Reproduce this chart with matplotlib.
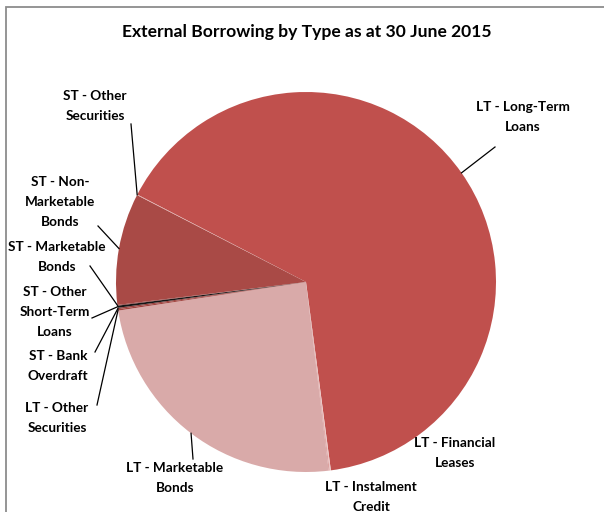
import matplotlib
matplotlib.use("Agg")
import matplotlib.pyplot as plt
from matplotlib.patches import Rectangle
import numpy as np

plt.rcParams['font.family'] = ['Lato', 'DejaVu Sans']

labels = ["LT - Long-Term\nLoans", "LT - Financial\nLeases", "LT - Instalment\nCredit",
          "LT - Marketable\nBonds", "LT - Other\nSecurities", "ST - Bank\nOverdraft",
          "ST - Other\nShort-Term\nLoans", "ST - Marketable\nBonds",
          "ST - Non-\nMarketable\nBonds", "ST - Other\nSecurities"]
shares = [65.30, 0.12, 0.06, 24.50, 0.12, 0.12, 0.18, 0.06, 9.49, 0.05]
colors = ["#C0504D", "#EBC6C5", "#D27F7C", "#D9AAA9", "#A2433F", "#983F3B",
          "#151515", "#7E302D", "#A94A46", "#DDA09E"]

# label positions in pixels (x, y from top-left)
label_px = [(523, 117), (455, 453), (371, 497), (175, 478), (57, 418),
            (58, 366), (55, 312), (57, 257), (60, 202), (95, 106)]
# where each leader line leaves the label
leader_px = [(495, 147), None, None, (193, 459), (97, 405), (95, 352),
             (92, 318), (90, 266), (98, 226), (131, 124)]

W, H = 604, 512
cx, cy, R = 306, 282, 190


def px(x, y):
    return (x - cx) / R, (cy - y) / R


fig = plt.figure(figsize=(W / 100, H / 100), dpi=100)
ax = fig.add_axes([0, 0, 1, 1])
ax.set_aspect('equal')
ax.axis('off')

wedges, _ = ax.pie(shares, colors=colors, startangle=152.6, counterclock=False,
                   radius=1, center=(0, 0), wedgeprops=dict(linewidth=0),
                   frame=False)
ax.set_xlim(px(0, 0)[0], px(W, 0)[0])
ax.set_ylim(px(0, H)[1], px(0, 0)[1])

for w, lab, lp, lead in zip(wedges, labels, label_px, leader_px):
    tx, ty = px(*lp)
    ax.text(tx, ty, lab, ha='center', va='center', fontsize=9.8,
            fontweight='bold', linespacing=1.75, color='#000000')
    if lead is not None:
        mid = np.deg2rad((w.theta1 + w.theta2) / 2)
        ex, ey = np.cos(mid), np.sin(mid)
        sx, sy = px(*lead)
        ax.plot([sx, ex], [sy, ey], color='black', lw=0.9)

ax.text(*px(307, 32), "External Borrowing by Type as at 30 June 2015",
        ha='center', va='center', fontsize=12.6, fontweight='bold')

# chart area border
fig.patches.append(Rectangle((6 / W, -0.1), 1.2, 1 - 7 / H + 0.1,
                             transform=fig.transFigure, fill=False,
                             edgecolor='#8c8c8c', lw=1.3))

fig.savefig("out.png", dpi=100)
